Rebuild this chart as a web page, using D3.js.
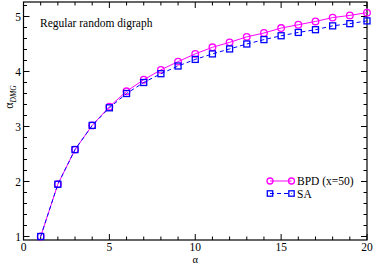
<!DOCTYPE html>
<html><head><meta charset="utf-8">
<script src="https://cdn.jsdelivr.net/npm/d3@7"></script>
<style>body{margin:0;background:#fff}svg{display:block}text{font-family:"Liberation Serif","Times New Roman",serif}</style>
</head><body><svg id="c" width="374" height="264"></svg>
<script>
const alphas = [1,2,3,4,5,6,7,8,9,10,11,12,13,14,15,16,17,18,19,20];
const bpd = [1.00,1.95,2.58,3.02,3.36,3.64,3.85,4.03,4.18,4.32,4.44,4.53,4.63,4.70,4.79,4.85,4.91,4.98,5.02,5.07];
const sa  = [1.00,1.95,2.58,3.02,3.34,3.60,3.80,3.96,4.10,4.22,4.32,4.41,4.50,4.58,4.65,4.71,4.76,4.83,4.87,4.92];
const xTicks = [0,5,10,15,20];
const yTicks = [1,2,3,4,5];
const seriesNames = ["BPD (x=50)","SA"];
const title = "Regular random digraph";

const svg = d3.select("#c");
const L=23.5, R=367, T=2, B=240;
const x = d3.scaleLinear().domain([0,20]).range([L,R]);
const y = d3.scaleLinear().domain([1,5]).range([236.5,16.5]);

const g = svg.append("g");
const minorX = d3.range(0,21,1), minorY = d3.range(1,5.3,0.2).filter(v=>v<=5.26);

// frame
g.append("rect").attr("x",L).attr("y",T).attr("width",R-L).attr("height",B-T)
 .attr("fill","none").attr("stroke","#000").attr("stroke-width",1.2);

// ticks
function tk(x1,y1,x2,y2){g.append("line").attr("x1",x1).attr("y1",y1).attr("x2",x2).attr("y2",y2).attr("stroke","#000").attr("stroke-width",1);}
minorX.forEach(v=>{const len = v%5===0?6:3.5; const px=x(v); tk(px,B,px,B-len); tk(px,T,px,T+len);});
minorY.forEach(v=>{const major=Math.abs(v-Math.round(v))<1e-6; const len=major?6:3.5; const py=y(v); tk(L,py,L+len,py); tk(R,py,R-len,py);});

// tick labels
xTicks.forEach(v=>g.append("text").attr("x",x(v)).attr("y",250.5).attr("text-anchor","middle").attr("font-size",11.5).text(v));
yTicks.forEach(v=>g.append("text").attr("x",21).attr("y",y(v)+4).attr("text-anchor","end").attr("font-size",11.5).text(v));

// axis labels
g.append("text").attr("x",x(10)).attr("y",263).attr("text-anchor","middle").attr("font-size",10.5).text("α");
const yl = g.append("text").attr("transform","translate(13,97) rotate(-90)").attr("text-anchor","middle").attr("font-size",12);
yl.append("tspan").text("α");
yl.append("tspan").attr("font-size",7.5).attr("font-style","italic").attr("dy",2.5).text("DMG");

// title
g.append("text").attr("x",40).attr("y",27).attr("font-size",11.5).text(title);

// series
const line = d3.line().x((d,i)=>x(alphas[i])).y(d=>y(d));
g.append("path").datum(bpd).attr("d",line).attr("fill","none").attr("stroke","#ff00ff").attr("stroke-width",1);
g.selectAll(".c").data(bpd).enter().append("circle").attr("cx",(d,i)=>x(alphas[i])).attr("cy",d=>y(d)).attr("r",3.3)
 .attr("fill","none").attr("stroke","#ff00ff").attr("stroke-width",1.3);
g.append("path").datum(sa).attr("d",line).attr("fill","none").attr("stroke","#0000ff").attr("stroke-width",1).attr("stroke-dasharray","4,3");
g.selectAll(".s").data(sa).enter().append("rect").attr("x",(d,i)=>x(alphas[i])-3).attr("y",d=>y(d)-3).attr("width",6).attr("height",6)
 .attr("fill","none").attr("stroke","#0000ff").attr("stroke-width",1.3);

// legend
const lg = g.append("g");
lg.append("line").attr("x1",270).attr("x2",291.5).attr("y1",181).attr("y2",181).attr("stroke","#ff00ff").attr("stroke-width",1);
[270,291.5].forEach(px=>lg.append("circle").attr("cx",px).attr("cy",181).attr("r",3).attr("fill","none").attr("stroke","#ff00ff").attr("stroke-width",1.3));
lg.append("text").attr("x",297).attr("y",185).attr("font-size",11.5).text(seriesNames[0]);
lg.append("line").attr("x1",270).attr("x2",291.5).attr("y1",193.5).attr("y2",193.5).attr("stroke","#0000ff").attr("stroke-width",1).attr("stroke-dasharray","4,3");
[270,291.5].forEach(px=>lg.append("rect").attr("x",px-2.7).attr("y",193.5-2.7).attr("width",5.4).attr("height",5.4).attr("fill","none").attr("stroke","#0000ff").attr("stroke-width",1.3));
lg.append("text").attr("x",297).attr("y",197.5).attr("font-size",11.5).text(seriesNames[1]);
</script></body></html>
